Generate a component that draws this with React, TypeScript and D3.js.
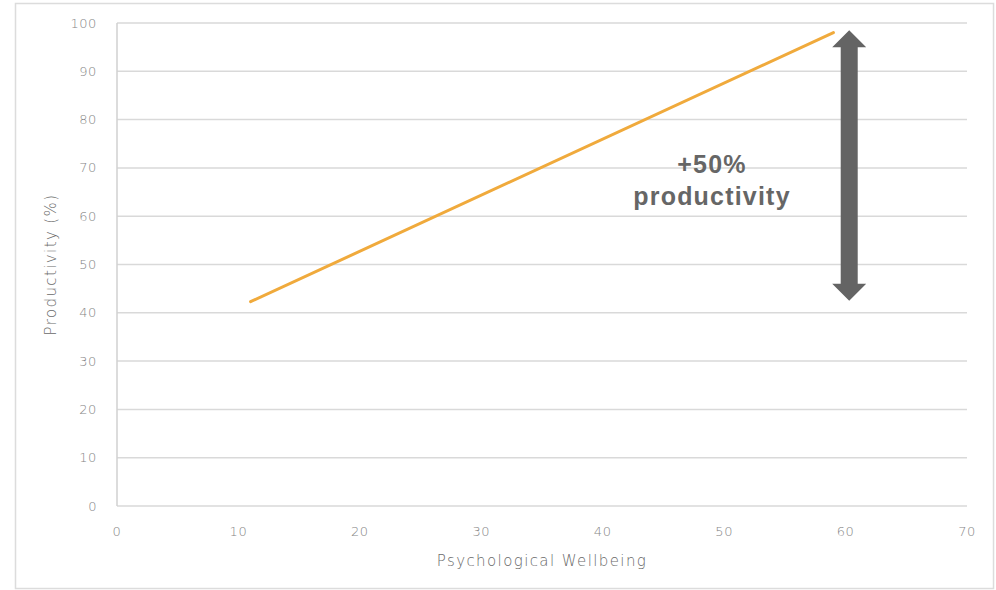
import { useEffect, useRef } from 'react';
import * as d3 from 'd3';

const wellbeing = [11, 59];
const productivity = [42.3, 98];
const arrowX = 60.3;
const arrowRange = [42.5, 98.5];
const xTicks = [0, 10, 20, 30, 40, 50, 60, 70];
const yTicks = [0, 10, 20, 30, 40, 50, 60, 70, 80, 90, 100];
const calloutLines = ['+50%', 'productivity'];

export default function App() {
  const svgRef = useRef<SVGSVGElement>(null);

  useEffect(() => {
    if (!svgRef.current) return;
    const svg = d3.select(svgRef.current);
    svg.selectAll('*').remove();

    const width = 996;
    const height = 590;
    const margin = { top: 23, right: 29, bottom: 84, left: 117 };

    const x = d3.scaleLinear().domain([0, 70]).range([margin.left, width - margin.right]);
    const y = d3.scaleLinear().domain([0, 100]).range([height - margin.bottom, margin.top]);

    const font = '"DejaVu Sans", Lato, sans-serif';
    const tickColor = '#858585';

    // outer frame
    svg.append('rect')
      .attr('x', 15.5).attr('y', 3.5)
      .attr('width', 978).attr('height', 585)
      .attr('fill', '#fff')
      .attr('stroke', '#dcdcdc')
      .attr('stroke-width', 1.5);

    // gridlines
    svg.append('g')
      .selectAll('line')
      .data(yTicks)
      .join('line')
      .attr('x1', x(0)).attr('x2', x(70))
      .attr('y1', d => y(d)).attr('y2', d => y(d))
      .attr('stroke', '#d9d9d9')
      .attr('stroke-width', 1.5);

    // left axis line
    svg.append('line')
      .attr('x1', x(0)).attr('x2', x(0))
      .attr('y1', y(0)).attr('y2', y(100))
      .attr('stroke', '#d0d0d0')
      .attr('stroke-width', 1.5);

    // y tick labels
    svg.append('g')
      .selectAll('text')
      .data(yTicks)
      .join('text')
      .attr('x', x(0) - 20)
      .attr('y', d => y(d))
      .attr('dy', '0.35em')
      .attr('text-anchor', 'end')
      .attr('font-family', font)
      .attr('font-weight', 300)
      .attr('font-size', 13)
      .attr('letter-spacing', 0.6)
      .attr('fill', tickColor)
      .text(d => d);

    // x tick labels
    svg.append('g')
      .selectAll('text')
      .data(xTicks)
      .join('text')
      .attr('x', d => x(d))
      .attr('y', y(0) + 25)
      .attr('dy', '0.35em')
      .attr('text-anchor', 'middle')
      .attr('font-family', font)
      .attr('font-weight', 300)
      .attr('font-size', 13)
      .attr('letter-spacing', 0.6)
      .attr('fill', tickColor)
      .text(d => d);

    // axis titles
    svg.append('text')
      .attr('x', (x(0) + x(70)) / 2)
      .attr('y', 561)
      .attr('dy', '0.35em')
      .attr('text-anchor', 'middle')
      .attr('font-family', font)
      .attr('font-weight', 300)
      .attr('font-size', 15)
      .attr('letter-spacing', 1.4)
      .attr('fill', '#6a6a6a')
      .text('Psychological Wellbeing');

    svg.append('text')
      .attr('transform', `translate(51,${(y(0) + y(100)) / 2}) rotate(-90)`)
      .attr('dy', '0.35em')
      .attr('text-anchor', 'middle')
      .attr('font-family', font)
      .attr('font-weight', 300)
      .attr('font-size', 15)
      .attr('letter-spacing', 1.4)
      .attr('fill', '#6a6a6a')
      .text('Productivity (%)');

    // trend line
    const pts = wellbeing.map((w, i) => [w, productivity[i]] as [number, number]);
    const line = d3.line<[number, number]>()
      .x(d => x(d[0]))
      .y(d => y(d[1]));
    svg.append('path')
      .datum(pts)
      .attr('fill', 'none')
      .attr('stroke', '#f0aa3c')
      .attr('stroke-width', 3)
      .attr('stroke-linecap', 'round')
      .attr('d', line);

    // double-headed arrow
    const ax = x(arrowX);
    const top = y(arrowRange[1]);
    const bot = y(arrowRange[0]);
    const headH = 17;
    const headW = 17;
    const shaftW = 8.5;
    const arrowPath = [
      [ax, top],
      [ax + headW, top + headH],
      [ax + shaftW, top + headH],
      [ax + shaftW, bot - headH],
      [ax + headW, bot - headH],
      [ax, bot],
      [ax - headW, bot - headH],
      [ax - shaftW, bot - headH],
      [ax - shaftW, top + headH],
      [ax - headW, top + headH],
    ] as [number, number][];
    svg.append('path')
      .attr('d', d3.line()(arrowPath) + 'Z')
      .attr('fill', '#646464');

    // callout text
    svg.append('g')
      .selectAll('text')
      .data(calloutLines)
      .join('text')
      .attr('x', 712)
      .attr('y', (_, i) => 173 + i * 32)
      .attr('text-anchor', 'middle')
      .attr('font-family', '"Liberation Sans", Arial, sans-serif')
      .attr('font-weight', 'bold')
      .attr('font-size', 25)
      .attr('letter-spacing', 1.2)
      .attr('fill', '#666666')
      .text(d => d);
  }, []);

  return (
    <svg
      ref={svgRef}
      width={996}
      height={590}
      style={{ display: 'block', position: 'absolute', left: 0, top: 0 }}
    />
  );
}
